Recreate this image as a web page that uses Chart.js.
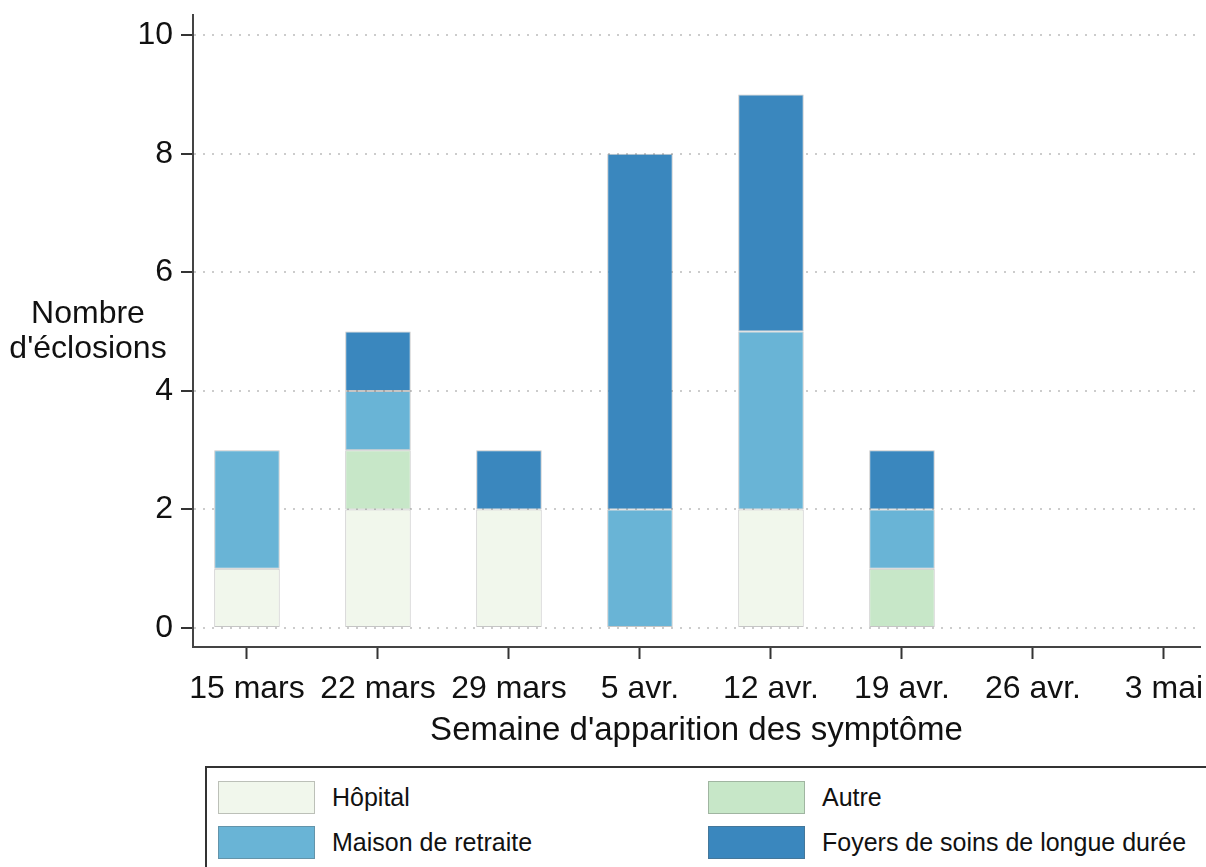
<!DOCTYPE html>
<html>
<head>
<meta charset="utf-8">
<script src="https://cdn.jsdelivr.net/npm/chart.js@4.4.1/dist/chart.umd.min.js"></script>
<style>
  html, body { margin: 0; padding: 0; background: #fff; width: 1206px; height: 867px; overflow: hidden; font-family: "Liberation Sans", Arial, sans-serif; }
  #wrap { position: absolute; left: 0; top: 0; width: 1206px; height: 767px; }
  #ytitle { position: absolute; left: 0; width: 176px; top: 295px; text-align: center; font-size: 32px; line-height: 35px; color: #111; }
  #legend { position: absolute; left: 205px; top: 766px; width: 1010px; height: 110px; border: 2px solid #333; box-sizing: border-box; background: #fff; }
  .item { position: absolute; display: flex; align-items: center; font-size: 25px; color: #111; }
  .sw { width: 97px; height: 33px; box-sizing: border-box; border: 1px solid rgba(90,90,90,0.35); margin-right: 17px; }
</style>
</head>
<body>
<div id="wrap"><canvas id="c"></canvas></div>
<div id="ytitle">Nombre<br>d'éclosions</div>
<div id="legend"></div>
<script>
const weeks = ["15 mars", "22 mars", "29 mars", "5 avr.", "12 avr.", "19 avr.", "26 avr.", "3 mai"];
const hopital = [1, 2, 2, 0, 2, 0, 0, 0];
const autre   = [0, 1, 0, 0, 0, 1, 0, 0];
const maison  = [2, 1, 0, 2, 3, 1, 0, 0];
const foyers  = [0, 1, 1, 6, 4, 1, 0, 0];
const yTicks = [0, 2, 4, 6, 8, 10];
const seriesNames = ["Hôpital", "Autre", "Maison de retraite", "Foyers de soins de longue durée"];
const seriesColors = ["#f1f7ec", "#c7e7c8", "#69b4d6", "#3a87be"];

const series = [hopital, autre, maison, foyers];
const datasets = series.map((vals, i) => ({
  label: seriesNames[i],
  data: vals.map((v, j) => ({ x: j, y: v === 0 ? null : v })),
  backgroundColor: seriesColors[i],
  borderColor: "rgba(90,90,90,0.35)",
  borderWidth: 1,
  borderSkipped: false,
  categoryPercentage: 1,
  barPercentage: 0.5,
  stack: "s"
}));

const FONT = "'Liberation Sans', Arial, sans-serif";
new Chart(document.getElementById("c"), {
  type: "bar",
  data: { datasets },
  options: {
    responsive: true,
    maintainAspectRatio: false,
    animation: false,
    layout: { padding: { top: 15, right: 6, left: 0, bottom: 0 } },
    plugins: { legend: { display: false }, tooltip: { enabled: false } },
    scales: {
      x: {
        type: "linear",
        stacked: true,
        offset: false,
        min: -0.412,
        max: 7.275,
        afterBuildTicks: (s) => { s.ticks = weeks.map((w, i) => ({ value: i })); },
        afterFit: (s) => { s.height = 120; s.paddingLeft = 0; s.paddingRight = 0; },
        ticks: {
          callback: (v) => weeks[v],
          font: { size: 32, family: FONT },
          color: "#111",
          padding: 11,
          maxRotation: 0,
          autoSkip: false
        },
        grid: { display: true, drawOnChartArea: false, drawTicks: true, offset: false, tickLength: 12, tickColor: "#333", tickWidth: 2 },
        border: { display: true, color: "#444", width: 2 },
        title: {
          display: true,
          text: "Semaine d'apparition des symptôme",
          font: { size: 33, family: FONT },
          color: "#111",
          padding: { top: 4, bottom: 16 }
        }
      },
      y: {
        stacked: true,
        min: -0.32,
        max: 10.34,
        afterBuildTicks: (s) => { s.ticks = yTicks.map(v => ({ value: v })); },
        afterFit: (s) => { s.width = 193; s.paddingTop = 0; s.paddingBottom = 0; },
        ticks: {
          font: { size: 32, family: FONT },
          color: "#111",
          padding: 8
        },
        grid: {
          display: true, drawOnChartArea: true, drawTicks: true,
          color: "#cccccc", lineWidth: 2,
          tickLength: 12, tickColor: "#333", tickWidth: 2, tickBorderDash: []
        },
        border: { display: true, color: "#444", width: 2, dash: [2, 7] }
      }
    }
  }
});

// HTML legend (2 columns)
const legend = document.getElementById("legend");
const pos = [[11, 13], [501, 13], [11, 58], [501, 58]];
seriesNames.forEach((name, i) => {
  const it = document.createElement("div");
  it.className = "item";
  it.style.left = pos[i][0] + "px";
  it.style.top = pos[i][1] + "px";
  const sw = document.createElement("div");
  sw.className = "sw";
  sw.style.background = seriesColors[i];
  const tx = document.createElement("span");
  tx.textContent = name;
  it.appendChild(sw); it.appendChild(tx);
  legend.appendChild(it);
});
</script>
</body>
</html>
